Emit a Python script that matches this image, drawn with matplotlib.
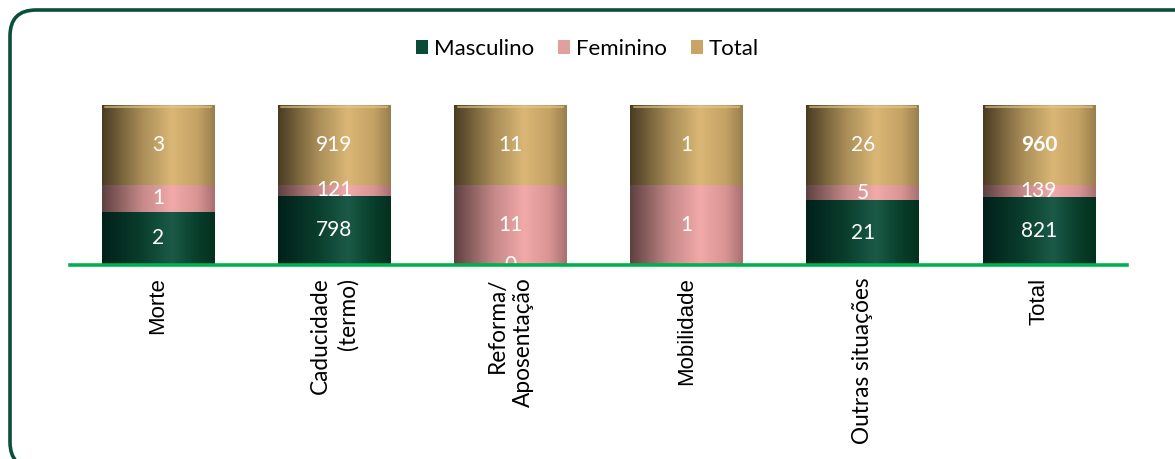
import numpy as np
import matplotlib
matplotlib.use("Agg")
import matplotlib.pyplot as plt
from matplotlib.patches import FancyBboxPatch, Patch
from matplotlib.transforms import IdentityTransform

categories = ["Morte", "Caducidade\n(termo)", "Reforma/\nAposentação", "Mobilidade",
              "Outras situações", "Total"]
series_names = ["Masculino", "Feminino", "Total"]
masculino = [2, 798, 0, np.nan, 21, 821]
feminino = [1, 121, 11, 1, 5, 139]
total = [3, 919, 11, 1, 26, 960]

W, H = 1175, 459
fig = plt.figure(figsize=(W / 100, H / 100), dpi=100)
fig.patch.set_facecolor("white")

ax = fig.add_axes([70 / W, (H - 265) / H, 1057 / W, 160 / H])

series = [np.array(masculino, float), np.array(feminino, float), np.array(total, float)]
sums = np.nansum(np.vstack(series), axis=0)
shares = [np.nan_to_num(s) / sums for s in series]

# gradient profiles (left dark -> highlight -> right)
grads = [
    [(0.00, "#00201a"), (0.35, "#0a3e2c"), (0.62, "#1b5a47"), (0.85, "#083e2b"), (1.00, "#04301f")],
    [(0.00, "#5e4040"), (0.35, "#c48888"), (0.62, "#f2a9a9"), (0.85, "#d89494"), (1.00, "#a87070")],
    [(0.00, "#4a3c22"), (0.35, "#a88c58"), (0.62, "#dab776"), (0.85, "#c4a264"), (1.00, "#98804c")],
]
legend_cols = ["#0b4a36", "#e0a0a0", "#c8a465"]


def make_grad(stops, n=256):
    xs = np.linspace(0, 1, n)
    pos = [p for p, _ in stops]
    rgb = np.array([matplotlib.colors.to_rgb(c) for _, c in stops])
    out = np.stack([np.interp(xs, pos, rgb[:, k]) for k in range(3)], axis=-1)
    return out[None, :, :]


x = np.arange(len(categories))
width = 0.64
bottom = np.zeros(len(categories))
for i, sh in enumerate(shares):
    bars = ax.bar(x, sh, width, bottom=bottom, color=legend_cols[i], edgecolor="none", zorder=2)
    img = make_grad(grads[i])
    for b in bars:
        if b.get_height() <= 0:
            continue
        x0, y0 = b.get_x(), b.get_y()
        im = ax.imshow(img, extent=[x0, x0 + b.get_width(), y0, y0 + b.get_height()],
                       aspect="auto", zorder=3, interpolation="bilinear")
        im.set_clip_path(b)
    bottom = bottom + sh

# cap highlight on top of cylinders
for xi in x:
    ax.plot([xi - width / 2 + 0.02, xi + width / 2 - 0.02], [0.985, 0.985],
            color="#e8c98a", lw=1.5, alpha=0.6, zorder=4, solid_capstyle="round")

# data labels
bottom = np.zeros(len(categories))
for i, (sh, vals) in enumerate(zip(shares, series)):
    for j in range(len(categories)):
        v = vals[j]
        if np.isnan(v):
            continue
        yc = bottom[j] + sh[j] / 2
        bold = (i == 2 and j == len(categories) - 1)
        ax.text(x[j], yc, f"{int(v)}", ha="center", va="center", color="white",
                fontsize=15, family="Lato", fontweight="bold" if bold else "normal", zorder=5)
    bottom = bottom + sh

ax.set_xlim(-0.5, len(categories) - 0.5)
ax.set_ylim(0, 1)
for s in ["top", "right", "left"]:
    ax.spines[s].set_visible(False)
ax.spines["bottom"].set_color("#00b050")
ax.spines["bottom"].set_linewidth(2.6)
ax.spines["bottom"].set_zorder(6)
ax.set_yticks([])
ax.set_xticks(x)
ax.set_xticklabels(categories, rotation=90, ha="center", va="top", fontsize=16.3,
                   family="Lato", multialignment="right", linespacing=1.35)
ax.tick_params(axis="x", length=0, pad=9)
for lbl, cat in zip(ax.get_xticklabels(), categories):
    if cat in ("Morte", "Mobilidade", "Total"):
        lbl.set_family("Liberation Sans")
        lbl.set_fontsize(16)
ax.set_facecolor("none")

handles = [Patch(facecolor=c, edgecolor="none") for c in legend_cols]
fig.legend(handles, series_names, loc="center", bbox_to_anchor=(0.5, 1 - 49 / H), ncol=3,
           frameon=False, prop={"family": "Lato", "size": 16}, handlelength=0.55,
           handleheight=0.55, handletextpad=0.25, columnspacing=1.1)

frame = FancyBboxPatch((10, -9), 1200, 449 + 9, boxstyle="round,pad=0,rounding_size=26",
                       transform=IdentityTransform(), facecolor="none", edgecolor="#0a4f3c",
                       linewidth=2.6)
fig.patches.append(frame)

fig.savefig("out.png", dpi=100)
